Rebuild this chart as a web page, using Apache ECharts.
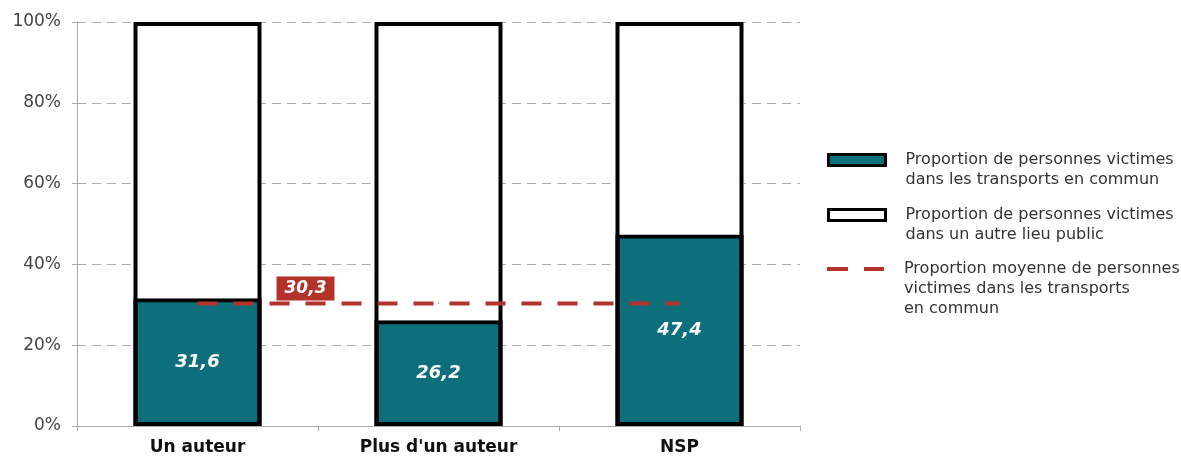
<!DOCTYPE html>
<html>
<head>
<meta charset="utf-8">
<script src="https://cdn.jsdelivr.net/npm/echarts@6/dist/echarts.min.js"></script>
<style>
  html, body { margin: 0; padding: 0; background: #fff; }
  #chart { width: 1181px; height: 456px; }
</style>
</head>
<body>
<div id="chart"></div>
<script>
const categories = ['Un auteur', "Plus d'un auteur", 'NSP']
const transports = [31.6, 26.2, 47.4]
const autreLieu = [68.4, 73.8, 52.6]
const total = [100, 100, 100]
const moyenne = [30.3, 30.3, 30.3]
const yTicks = [0, 20, 40, 60, 80, 100]

const nameTransports = 'Proportion de personnes victimes\ndans les transports en commun'
const nameAutre = 'Proportion de personnes victimes\ndans un autre lieu public'
const nameMoyenne = 'Proportion moyenne de personnes\nvictimes dans les transports\nen commun'

const font = '"DejaVu Sans", Verdana, sans-serif'
const red = '#b3322a'
const teal = '#0e6f7c'
const barW = 128
const fmt = v => String(v).replace('.', ',')

// une légende par entrée ; lignes vides en tête pour caler l'icône sur la 1re ligne
const makeLegend = (name, top, lines) => ({
  orient: 'vertical',
  left: 827,
  top: top,
  padding: 0,
  data: [name],
  itemWidth: 57,
  itemHeight: 11,
  selectedMode: false,
  formatter: n => '\n'.repeat(lines - 1) + n,
  textStyle: {
    fontFamily: font,
    fontSize: 16,
    lineHeight: 20,
    color: '#333',
    padding: [0, 0, 0, 15]
  }
})

const chart = echarts.init(document.getElementById('chart'))

chart.setOption({
  animation: false,
  textStyle: { fontFamily: font },
  grid: { left: 77, right: 381, top: 22, bottom: 30 },
  legend: [
    Object.assign(makeLegend(nameTransports, 130, 2), {
      icon: 'rect',
      itemStyle: { color: teal, borderColor: '#000', borderWidth: 3 }
    }),
    Object.assign(makeLegend(nameAutre, 185, 2), {
      icon: 'rect',
      itemStyle: { color: '#fff', borderColor: '#000', borderWidth: 3 }
    }),
    Object.assign(makeLegend(nameMoyenne, 219, 3), {
      icon: 'path://M0,0h21v4h-21z M37,0h20v4h-20z',
      itemWidth: 57,
      itemHeight: 4,
      itemStyle: { color: red, borderWidth: 0 }
    })
  ],
  xAxis: {
    type: 'category',
    data: categories,
    axisLine: { lineStyle: { color: '#aaa', width: 1 } },
    axisTick: { show: true, length: 5, lineStyle: { color: '#aaa' } },
    axisLabel: { color: '#111', fontWeight: 'bold', fontSize: 17, margin: 13, fontFamily: font }
  },
  yAxis: {
    type: 'value',
    min: 0,
    max: 100,
    interval: 20,
    axisLine: { show: true, lineStyle: { color: '#aaa', width: 1 } },
    axisTick: { show: true, length: 5, lineStyle: { color: '#aaa' } },
    axisLabel: {
      color: '#444',
      fontSize: 17,
      margin: 16,
      fontFamily: font,
      formatter: v => yTicks.includes(v) ? v + '%' : ''
    },
    splitLine: { lineStyle: { color: '#aaa', type: [9, 6], width: 1 } }
  },
  series: [
    {
      name: nameTransports,
      type: 'bar',
      stack: 'total',
      barWidth: barW,
      data: transports,
      itemStyle: { color: teal, borderColor: '#000', borderWidth: 4 },
      label: {
        show: true,
        position: 'inside',
        color: '#fff',
        fontWeight: 'bold',
        fontStyle: 'italic',
        fontSize: 18,
        fontFamily: font,
        formatter: p => fmt(p.value)
      }
    },
    {
      name: nameAutre,
      type: 'bar',
      stack: 'total',
      barWidth: barW,
      data: autreLieu,
      itemStyle: { color: '#fff', borderWidth: 0 }
    },
    {
      // contour noir de la barre entière
      name: 'contour',
      type: 'bar',
      barWidth: barW,
      barGap: '-100%',
      silent: true,
      data: total,
      itemStyle: { color: 'transparent', borderColor: '#000', borderWidth: 4 }
    },
    {
      name: nameMoyenne,
      type: 'line',
      symbol: 'circle',
      symbolSize: 1,
      z: 5,
      data: moyenne.map((v, i) => i === 0 ? {
        value: v,
        label: {
          show: true,
          position: 'inside',
          offset: [108, -15],
          backgroundColor: red,
          padding: [4, 8, 3, 8],
          color: '#fff',
          fontWeight: 'bold',
          fontStyle: 'italic',
          fontSize: 17,
          fontFamily: font,
          formatter: p => fmt(p.value)
        }
      } : v),
      lineStyle: { color: red, width: 4, type: [20, 16] },
      itemStyle: { color: red }
    }
  ]
})
</script>
</body>
</html>
